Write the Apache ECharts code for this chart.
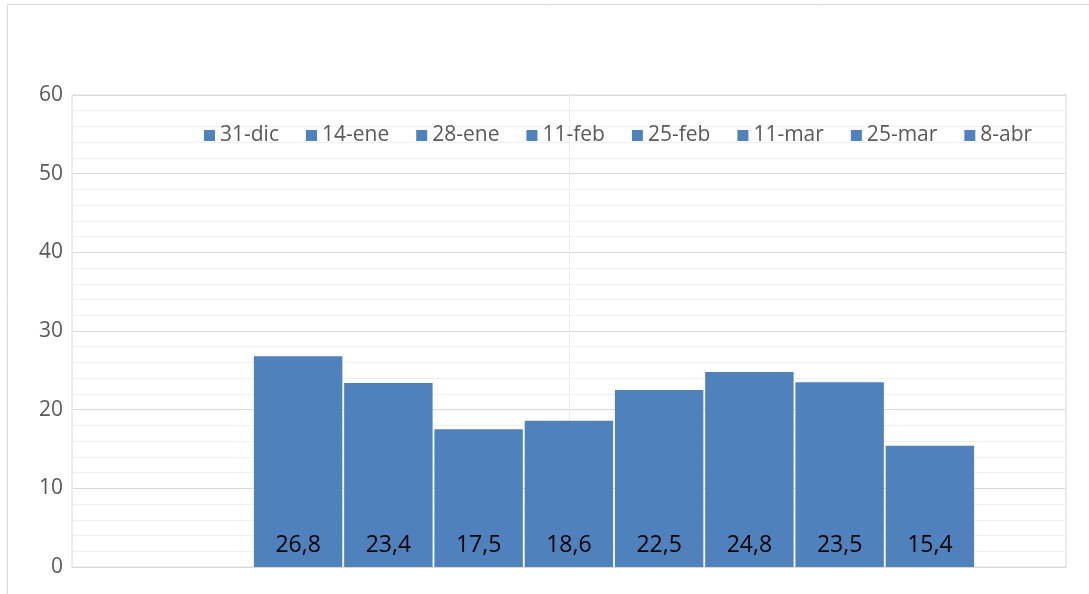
<!DOCTYPE html>
<html>
<head>
<meta charset="utf-8">
<script src="https://cdn.jsdelivr.net/npm/echarts@6/dist/echarts.min.js"></script>
<style>
  html, body { margin: 0; padding: 0; background: #fff; }
  #chart { width: 1089px; height: 594px; }
</style>
</head>
<body>
<div id="chart"></div>
<script>
// Fechas de medición y valores de cada barra
const fechas = ['31-dic', '14-ene', '28-ene', '11-feb', '25-feb', '11-mar', '25-mar', '8-abr'];
const valores = [26.8, 23.4, 17.5, 18.6, 22.5, 24.8, 23.5, 15.4];
const yTicks = [0, 10, 20, 30, 40, 50, 60];

const AZUL = '#4f81bd';
const FONT = '"Open Sans", "Noto Sans", sans-serif';

const chart = echarts.init(document.getElementById('chart'), null, { renderer: 'canvas' });

// One series per date so each gets a legend entry; stacking keeps every bar full width in its slot
const series = fechas.map((f, i) => ({
  name: f,
  type: 'bar',
  xAxisIndex: 1,
  yAxisIndex: 1,
  stack: 'total',
  barCategoryGap: '2%',
  itemStyle: { color: AZUL },
  label: {
    show: true,
    position: 'insideBottom',
    distance: 10,
    color: '#000',
    fontFamily: FONT,
    fontSize: 23,
    formatter: p => String(p.value).replace('.', ',')
  },
  data: fechas.map((_, j) => (j === i ? valores[i] : '-'))
}));

chart.setOption({
  animation: false,
  graphic: [{
    type: 'rect',
    shape: { x: 7.5, y: 4.5, width: 1200, height: 700 },
    style: { fill: 'none', stroke: '#d9d9d9', lineWidth: 1 },
    silent: true
  }],
  legend: {
    top: 120,
    left: 199,
    itemWidth: 11,
    itemHeight: 11,
    itemGap: 27,
    icon: 'rect',
    textStyle: { color: '#595959', fontFamily: FONT, fontSize: 21, padding: [0, 0, 0, 0] },
    data: fechas
  },
  grid: [
    { left: 72, right: 23, top: 95, bottom: 27, show: true, borderColor: '#d9d9d9', borderWidth: 1 },
    { left: 253, right: 114, top: 95, bottom: 27 }
  ],
  xAxis: [
    {
      gridIndex: 0, type: 'value', min: 0, max: 2, interval: 1,
      axisLine: { show: false }, axisTick: { show: false }, axisLabel: { show: false },
      splitLine: { show: true, lineStyle: { color: '#ebebeb', width: 1 } }
    },
    {
      gridIndex: 1, type: 'category', data: fechas,
      axisLine: { show: false }, axisTick: { show: false }, axisLabel: { show: false },
      splitLine: { show: false }
    }
  ],
  yAxis: [
    {
      gridIndex: 0, type: 'value', min: yTicks[0], max: yTicks[yTicks.length - 1], interval: 10,
      axisLine: { show: false }, axisTick: { show: false },
      axisLabel: { color: '#595959', fontFamily: FONT, fontSize: 21, margin: 9 },
      splitLine: { show: true, lineStyle: { color: '#d9d9d9', width: 1 } },
      minorTick: { show: false, splitNumber: 5 },
      minorSplitLine: { show: true, lineStyle: { color: '#f0f0f0', width: 1 } }
    },
    {
      gridIndex: 1, type: 'value', min: 0, max: 60, show: false,
      splitLine: { show: false }
    }
  ],
  series: series
});
</script>
</body>
</html>
